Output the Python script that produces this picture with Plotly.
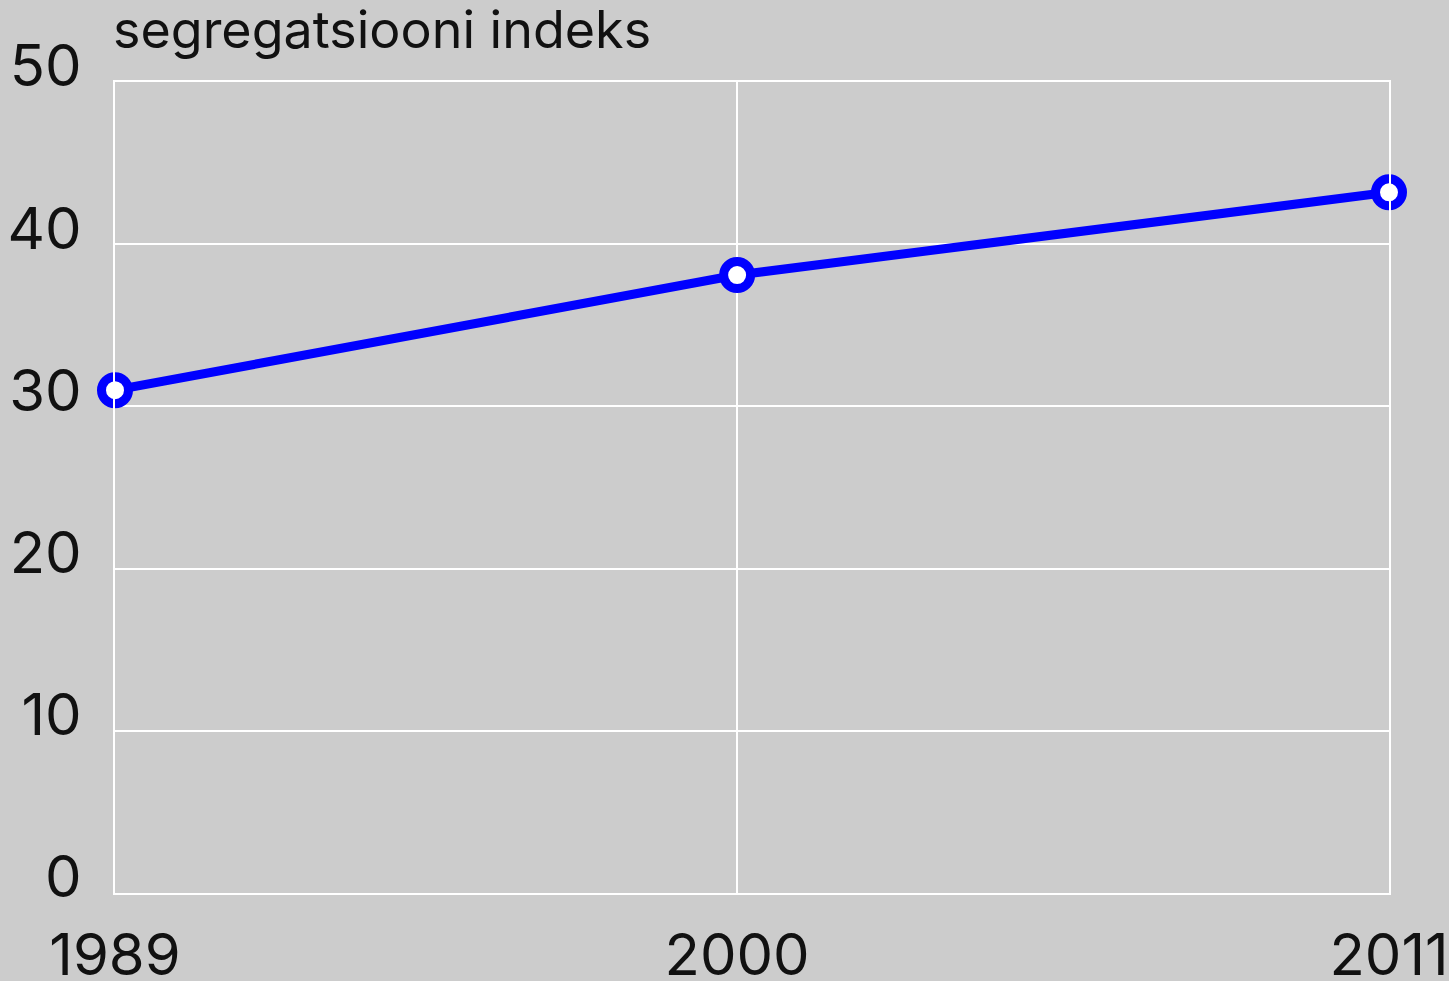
import plotly.graph_objects as go

# census dates (the x axis is a real time axis, so spacing follows the dates)
census_dates = ["1989-01-12", "2000-03-31", "2011-12-31"]
year_labels = ["1989", "2000", "2011"]
segregation_index = [31.0, 38.1, 43.2]

y_ticks = [0, 10, 20, 30, 40, 50]

BG = "#cccccc"
BLUE = "#0000ff"
FONT = "Inter"

fig = go.Figure()

fig.add_trace(
    go.Scatter(
        x=census_dates,
        y=segregation_index,
        mode="lines+markers",
        line=dict(color=BLUE, width=9),
        marker=dict(size=27, color="white", line=dict(color=BLUE, width=9)),
        cliponaxis=False,
        hoverinfo="x+y",
    )
)

fig.update_layout(
    width=1449,
    height=981,
    autosize=False,
    margin=dict(l=115, r=60, t=82, b=88),
    paper_bgcolor=BG,
    plot_bgcolor=BG,
    showlegend=False,
    font=dict(family=FONT, color="#111111", size=50),
)

# gridlines at the range edges are not drawn by plotly, so the white
# mirrored axis lines stand in for them
fig.update_xaxes(
    type="date",
    range=[census_dates[0], census_dates[-1]],
    tickvals=census_dates,
    ticktext=year_labels,
    showgrid=True,
    gridcolor="white",
    gridwidth=1.5,
    zeroline=False,
    showline=True,
    linecolor="white",
    linewidth=1.5,
    mirror=True,
    ticks="",
    tickfont=dict(size=58),
    ticklabelstandoff=11,
    automargin=False,
)

fig.update_yaxes(
    range=[0, 50],
    tickvals=y_ticks,
    showgrid=True,
    gridcolor="white",
    gridwidth=1.5,
    zeroline=False,
    showline=True,
    linecolor="white",
    linewidth=1.5,
    mirror=True,
    ticks="",
    tickfont=dict(size=58),
    ticklabelstandoff=20,
    ticklabelshift=-16,
    automargin=False,
)

# axis title sits above the plot, left aligned with the plot area
fig.add_annotation(
    text="segregatsiooni indeks",
    xref="paper", yref="paper",
    x=0, y=1,
    xanchor="left", yanchor="bottom",
    showarrow=False,
    font=dict(size=52, family=FONT, color="#111111"),
    xshift=-4,
    yshift=19,
)

fig.write_html(
    "out.html",
    config={"responsive": False, "displayModeBar": False},
    post_script="document.body.style.margin='0';",
)
